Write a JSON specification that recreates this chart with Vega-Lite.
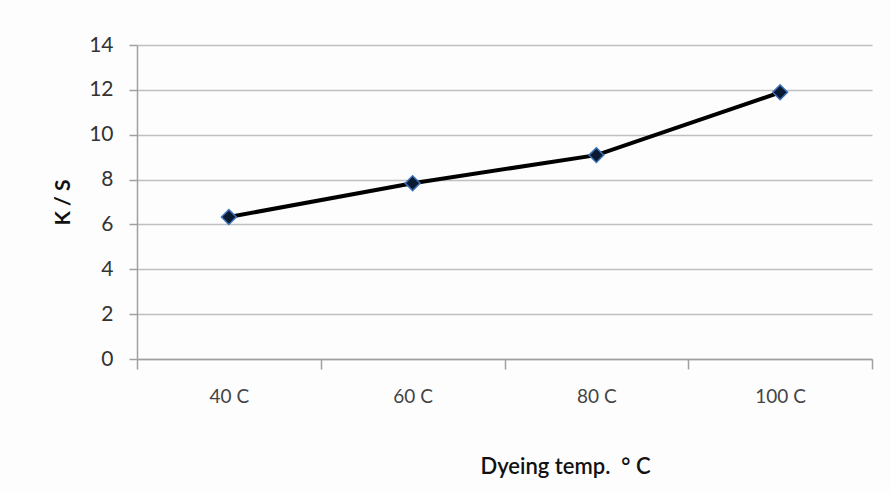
{
  "$schema": "https://vega.github.io/schema/vega-lite/v6.json",
  "autosize": {"type": "none"},
  "width": 735,
  "height": 314,
  "padding": {"left": 137, "top": 45, "right": 19, "bottom": 132},
  "background": "#fdfdfd",
  "data": {"values": [
    {"temp": "40 C", "ks": 6.33},
    {"temp": "60 C", "ks": 7.84},
    {"temp": "80 C", "ks": 9.09},
    {"temp": "100 C", "ks": 11.89}
  ]},
  "encoding": {
    "x": {
      "field": "temp", "type": "ordinal", "sort": null,
      "scale": {"paddingInner": 0, "paddingOuter": 0},
      "axis": {
        "title": "Dyeing temp. \u00a0° C", "labelAngle": 0, "tickBand": "extent",
        "grid": false, "domainColor": "#a0a0a0", "domainWidth": 1.5,
        "tickColor": "#a0a0a0", "tickWidth": 1.5, "tickSize": 10,
        "labelFont": "Lato", "labelFontSize": 19, "labelColor": "#444444", "labelPadding": 18,
        "titleFont": "Lato", "titleFontSize": 22, "titleFontWeight": 600, "titleColor": "#111111",
        "titlePadding": 50, "titleX": 428
      }
    },
    "y": {
      "field": "ks", "type": "quantitative",
      "scale": {"domain": [0, 14]},
      "axis": {
        "title": "K / S", "values": [0, 2, 4, 6, 8, 10, 12, 14],
        "domainColor": "#a0a0a0", "domainWidth": 1.5,
        "tickColor": "#a0a0a0", "tickWidth": 1.5, "tickSize": 8,
        "gridColor": "#c0c0c0", "gridWidth": 1.5,
        "labelFont": "Lato", "labelFontSize": 21, "labelColor": "#333333", "labelPadding": 16,
        "titleFont": "Lato", "titleFontSize": 21, "titleFontWeight": "bold", "titleColor": "#111111",
        "titlePadding": 15
      }
    }
  },
  "layer": [
    {"mark": {"type": "line", "color": "#000000", "strokeWidth": 4}},
    {"mark": {"type": "point", "shape": "diamond", "filled": true, "size": 220, "fill": "#0b1a33", "stroke": "#3b72b8", "strokeWidth": 1.5, "opacity": 1}}
  ],
  "config": {"view": {"stroke": null}}
}
